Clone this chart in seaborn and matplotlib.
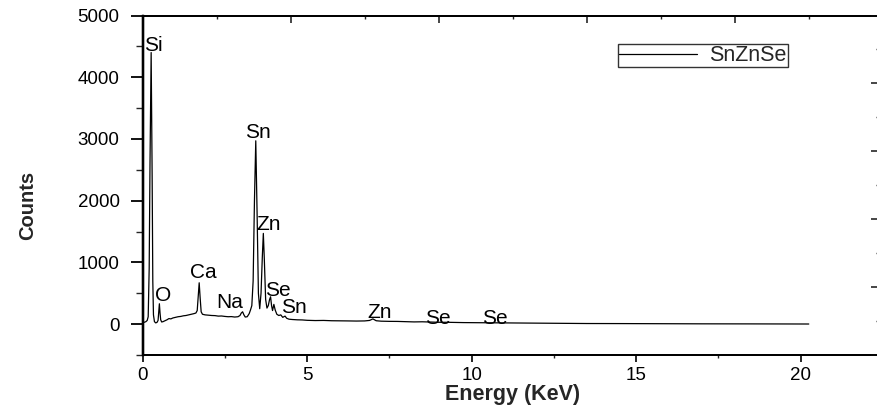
import matplotlib
matplotlib.use("Agg")
import matplotlib.pyplot as plt
from matplotlib.ticker import MultipleLocator, NullFormatter
import seaborn as sns
import pandas as pd

# ---- data ----
energy_kev = [
    0.00, 0.05, 0.10, 0.14, 0.17, 0.20, 0.225, 0.26, 0.29, 0.31, 0.33, 0.36, 0.40,
    0.44, 0.47, 0.49, 0.51, 0.53, 0.55, 0.58, 0.62, 0.68, 0.74, 0.80, 0.86, 0.92,
    1.00, 1.08, 1.16, 1.24, 1.32, 1.40, 1.48, 1.56, 1.62, 1.66, 1.69, 1.72, 1.75,
    1.78, 1.82, 1.90, 2.00, 2.10, 2.20, 2.30, 2.40, 2.50, 2.60, 2.70, 2.80, 2.90,
    2.96, 3.00, 3.04, 3.08, 3.12, 3.18, 3.24, 3.28, 3.32, 3.36, 3.40, 3.44, 3.48,
    3.52, 3.56, 3.60, 3.64, 3.67, 3.70, 3.74, 3.78, 3.82, 3.86, 3.89, 3.92, 3.95,
    3.99, 4.03, 4.08, 4.14, 4.20, 4.26, 4.33, 4.38, 4.45, 4.55, 4.70, 4.85, 5.00,
    5.25, 5.50, 5.75, 6.00, 6.25, 6.50, 6.75, 6.90, 7.00, 7.10, 7.25, 7.50, 7.75,
    8.00, 8.25, 8.50, 8.75, 9.00, 9.25, 9.50, 9.75, 10.00, 10.25, 10.50, 10.75,
    11.00, 11.25, 11.50, 12.00, 12.50, 13.00, 13.50, 14.00, 14.50, 15.00, 15.50,
    16.00, 16.50, 17.00, 17.50, 18.00, 18.50, 19.00, 19.50, 20.00, 20.25,
]
counts = [
    25, 30, 40, 60, 120, 900, 2600, 4400, 2400, 700, 150, 40, 20,
    30, 60, 200, 330, 180, 70, 35, 40, 55, 70, 90, 85, 100,
    110, 120, 125, 135, 140, 150, 160, 170, 180, 220, 450, 670, 420,
    200, 160, 150, 145, 140, 138, 130, 132, 125, 120, 122, 115, 120,
    140, 180, 200, 150, 115, 120, 170, 230, 300, 700, 2000, 2970, 1800,
    500, 250, 500, 1100, 1470, 1050, 400, 260, 300, 400, 443, 300, 220,
    320, 230, 160, 140, 150, 110, 130, 95, 80, 75, 70, 68, 62,
    58, 60, 55, 54, 52, 50, 52, 60, 85, 55, 48, 45, 44,
    40, 36, 38, 34, 30, 30, 27, 25, 24, 22, 22, 20,
    20, 19, 17, 15, 13, 12, 10, 10, 9, 8, 7,
    6, 6, 5, 5, 4, 4, 3, 3, 2, 2,
]
series_name = "SnZnSe"

peak_labels = ["Si", "O", "Ca", "Na", "Sn", "Zn", "Se", "Sn", "Zn", "Se", "Se"]
peak_label_e = [0.32, 0.62, 1.84, 2.66, 3.51, 3.84, 4.12, 4.60, 7.22, 8.98, 10.72]
peak_label_c = [4520, 470, 843, 356, 3110, 1620, 538, 267, 195, 97, 97]

x_ticks = [0, 5, 10, 15, 20]
y_ticks = [0, 1000, 2000, 3000, 4000, 5000]

# ---- style ----
sns.set_style("ticks")
plt.rcParams["font.family"] = ["Liberation Sans", "DejaVu Sans"]
plt.rcParams["axes.linewidth"] = 1.2

fig = plt.figure(figsize=(8.77, 4.08), dpi=100)
W, H = 877.0, 408.0
left, right, bottom, top = 142.6, 882.8, 355.0, 15.5
ax = fig.add_axes([left / W, 1 - bottom / H, (right - left) / W, (bottom - top) / H])

df = pd.DataFrame({"Energy": energy_kev, "Counts": counts})
sns.lineplot(data=df, x="Energy", y="Counts", ax=ax, color="black",
             linewidth=0.9, label=series_name)

ax.set_xlim(0, 22.5)
ax.set_ylim(-500, 5000)
ax.set_xticks(x_ticks)
ax.set_yticks(y_ticks)
ax.xaxis.set_minor_locator(MultipleLocator(2.5))
ax.yaxis.set_minor_locator(MultipleLocator(500))

ax.tick_params(axis="y", which="major", direction="out", length=8.6, width=1.3,
               labelsize=13.5, pad=8, colors="black")
ax.tick_params(axis="y", which="minor", direction="out", length=5, width=1.0)
ax.tick_params(axis="x", which="major", direction="out", length=5, width=1.2,
               labelsize=13.5, pad=4, colors="black")
ax.tick_params(axis="x", which="minor", direction="out", length=2.5, width=1.0)
ax.tick_params(top=False, right=False)

for s in ax.spines.values():
    s.set_visible(True)
    s.set_color("black")
    s.set_linewidth(1.2)
ax.spines["left"].set_linewidth(1.6)

# top / right inward ticks
axt = ax.twiny()
axt.set_xlim(0, 5)
axt.xaxis.set_major_locator(MultipleLocator(1))
axt.xaxis.set_minor_locator(MultipleLocator(0.5))
axt.xaxis.set_major_formatter(NullFormatter())
axt.tick_params(axis="x", which="major", direction="in", length=5, width=1.2, top=True)
axt.tick_params(axis="x", which="minor", direction="in", length=2.5, width=1.0, top=True)
axt.tick_params(axis="y", left=False, right=False, labelleft=False, labelright=False)

axr = ax.twinx()
axr.set_ylim(0, 5)
axr.yaxis.set_major_locator(MultipleLocator(1))
axr.yaxis.set_minor_locator(MultipleLocator(0.5))
axr.yaxis.set_major_formatter(NullFormatter())
axr.tick_params(axis="y", which="major", direction="in", length=9, width=1.2, right=True)
axr.tick_params(axis="y", which="minor", direction="in", length=5, width=1.0, right=True)
for a in (axt, axr):
    for s in a.spines.values():
        s.set_linewidth(1.2)
        s.set_color("black")
axt.spines["left"].set_linewidth(1.6)
axr.spines["left"].set_linewidth(1.6)

ax.set_xlabel("Energy (KeV)", fontsize=15.5, fontweight="bold")
ax.set_ylabel("Counts", fontsize=14.5, fontweight="bold")
ax.xaxis.set_label_coords(0.5, -0.086)
ax.yaxis.set_label_coords(-0.143, 0.44)

for lab, e, c in zip(peak_labels, peak_label_e, peak_label_c):
    ax.text(e, c, lab, ha="center", va="center", fontsize=15, color="black")

leg = ax.legend(loc="upper left", bbox_to_anchor=(618 / W, 1 - 44 / H),
                bbox_transform=fig.transFigure, frameon=True, fancybox=False,
                edgecolor="#333333", framealpha=1, handlelength=3.6,
                borderpad=0.05, borderaxespad=0, fontsize=15.5, handletextpad=0.6)
leg.get_frame().set_linewidth(1.0)

fig.savefig("out.png", dpi=100)
